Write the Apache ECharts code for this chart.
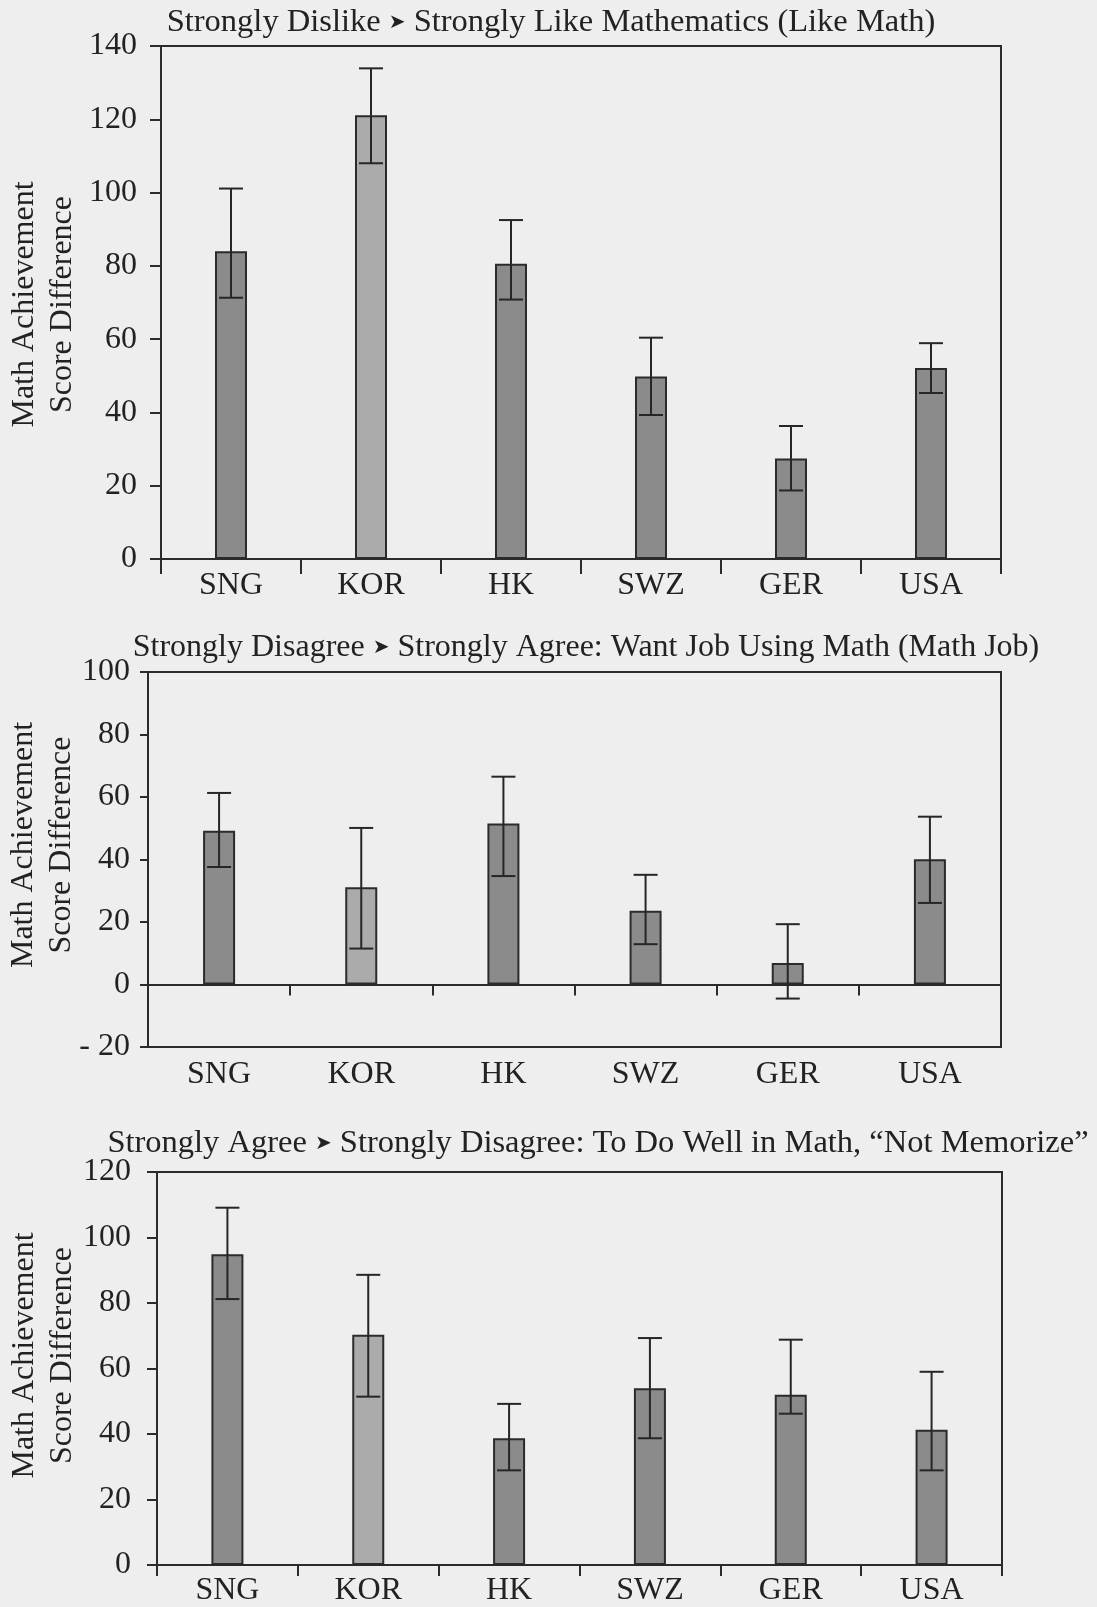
<!DOCTYPE html>
<html>
<head>
<meta charset="utf-8">
<title>Math Achievement Score Difference</title>
<script src="https://cdn.jsdelivr.net/npm/echarts@6/dist/echarts.min.js"></script>
<style>
  html, body { margin: 0; padding: 0; background: #eeeeee; }
  #chart { width: 1097px; height: 1607px; }
</style>
</head>
<body>
<div id="chart"></div>
<script>
// Countries shown on every panel
const categories = ['SNG', 'KOR', 'HK', 'SWZ', 'GER', 'USA'];

// Panel 1: Strongly Dislike -> Strongly Like Mathematics
const likeMathValues = [84.0, 121.1, 80.6, 49.8, 27.4, 52.1];
const likeMathLow    = [71.3, 108.0, 70.8, 39.3, 18.7, 45.3];
const likeMathHigh   = [101.1, 133.9, 92.5, 60.4, 36.3, 58.9];

// Panel 2: Strongly Disagree -> Strongly Agree: Want Job Using Math
const mathJobValues = [49.2, 31.1, 51.5, 23.6, 6.9, 40.1];
const mathJobLow    = [37.6, 11.5, 34.7, 12.9, -4.5, 26.1];
const mathJobHigh   = [61.3, 50.1, 66.5, 35.1, 19.3, 53.7];

// Panel 3: Strongly Agree -> Strongly Disagree: "Not Memorize"
const memorizeValues = [94.9, 70.3, 38.7, 54.0, 52.0, 41.3];
const memorizeLow    = [81.2, 51.4, 28.9, 38.7, 46.2, 28.9];
const memorizeHigh   = [109.1, 88.6, 49.2, 69.3, 68.8, 59.0];

// Value-axis ranges
const likeMathTicks = { min: 0, max: 140, interval: 20 };
const mathJobTicks  = { min: -20, max: 100, interval: 20 };
const memorizeTicks = { min: 0, max: 120, interval: 20 };

const panelTitles = [
  'Strongly Dislike {a|➤} Strongly Like Mathematics (Like Math)',
  'Strongly Disagree {a|➤} Strongly Agree: Want Job Using Math (Math Job)',
  'Strongly Agree {a|➤} Strongly Disagree: To Do Well in Math, \u201CNot Memorize\u201D'
];
const yName = 'Math Achievement\nScore Difference';

const FONT = 'Liberation Serif';
const INK = '#222222';
const LINE = '#2b2b2b';
const DARK_BAR = '#8b8b8b';
const LIGHT_BAR = '#ababab';

const chart = echarts.init(document.getElementById('chart'));

function titleOf(text, x, y, size) {
  return {
    text: text,
    left: x, top: y, textAlign: 'center', padding: 0,
    textStyle: {
      fontFamily: FONT, fontSize: size, fontWeight: 'normal', color: INK,
      rich: { a: { fontFamily: 'DejaVu Sans', fontSize: 20, color: INK } }
    }
  };
}

function valueAxis(grid, ticks, tickLen, labelMargin, nameGap, namePad) {
  return {
    type: 'value', gridIndex: grid,
    min: ticks.min, max: ticks.max, interval: ticks.interval,
    splitLine: { show: false },
    axisLine: { show: true, lineStyle: { color: LINE, width: 2 } },
    axisTick: { show: true, length: tickLen, lineStyle: { color: LINE, width: 2 } },
    axisLabel: {
      margin: labelMargin, fontFamily: FONT, fontSize: 32, color: INK,
      formatter: v => (v < 0 ? '- ' + Math.abs(v) : String(v))
    },
    name: yName, nameLocation: 'middle', nameRotate: 90, nameGap: nameGap,
    nameMoveOverlap: false,
    nameTextStyle: {
      fontFamily: FONT, fontSize: 32, lineHeight: 38, color: INK, padding: namePad
    }
  };
}

function categoryAxis(grid, opts) {
  return Object.assign({
    type: 'category', gridIndex: grid, data: categories,
    axisLine: { show: true, onZero: true, lineStyle: { color: LINE, width: 2 } },
    axisTick: { show: true, length: 15, lineStyle: { color: LINE, width: 2 } },
    axisLabel: { show: true, margin: 11, fontFamily: FONT, fontSize: 32, color: INK },
    splitLine: { show: false }
  }, opts);
}

function barSeries(xi, yi, values) {
  return {
    type: 'bar', xAxisIndex: xi, yAxisIndex: yi, barWidth: 32, z: 2,
    data: values.map((v, i) => ({
      value: v,
      itemStyle: { color: categories[i] === 'KOR' ? LIGHT_BAR : DARK_BAR }
    })),
    itemStyle: { borderColor: LINE, borderWidth: 2 },
    emphasis: { disabled: true }
  };
}

function renderError(params, api) {
  const lo = api.coord([api.value(0), api.value(1)]);
  const hi = api.coord([api.value(0), api.value(2)]);
  const hw = 12;
  const style = { stroke: '#262626', lineWidth: 2 };
  return {
    type: 'group',
    children: [
      { type: 'line', shape: { x1: hi[0], y1: hi[1], x2: lo[0], y2: lo[1] }, style: style },
      { type: 'line', shape: { x1: hi[0] - hw, y1: hi[1], x2: hi[0] + hw, y2: hi[1] }, style: style },
      { type: 'line', shape: { x1: lo[0] - hw, y1: lo[1], x2: lo[0] + hw, y2: lo[1] }, style: style }
    ]
  };
}

function errorSeries(xi, yi, low, high) {
  return {
    type: 'custom', xAxisIndex: xi, yAxisIndex: yi, z: 3,
    renderItem: renderError,
    encode: { x: 0, y: [1, 2] },
    data: low.map((l, i) => [i, l, high[i]])
  };
}

const gridStyle = {
  show: true, borderColor: LINE, borderWidth: 2, backgroundColor: 'transparent',
  containLabel: false, outerBoundsMode: 'none'
};

chart.setOption({
  animation: false,
  backgroundColor: '#eeeeee',
  title: [
    titleOf(panelTitles[0], 551, 6, 32.5),
    titleOf(panelTitles[1], 586, 632, 32),
    titleOf(panelTitles[2], 598, 1127, 32.5)
  ],
  grid: [
    Object.assign({ left: 161, top: 46, width: 840, height: 513 }, gridStyle),
    Object.assign({ left: 148, top: 672, width: 853, height: 375 }, gridStyle),
    Object.assign({ left: 157, top: 1172, width: 845, height: 393 }, gridStyle)
  ],
  xAxis: [
    categoryAxis(0, {}),
    // panel 2: country names along the lower frame
    categoryAxis(1, {
      position: 'bottom',
      axisLine: { show: false, onZero: false },
      axisTick: { show: false },
      axisLabel: { show: true, margin: 12, fontFamily: FONT, fontSize: 32, color: INK }
    }),
    // panel 2: baseline with ticks at zero
    categoryAxis(1, {
      position: 'bottom',
      axisTick: { show: true, length: 11, lineStyle: { color: LINE, width: 2 } },
      axisLabel: { show: false }
    }),
    categoryAxis(2, {
      axisTick: { show: true, length: 11, lineStyle: { color: LINE, width: 2 } },
      axisLabel: { show: true, margin: 10, fontFamily: FONT, fontSize: 32, color: INK }
    })
  ],
  yAxis: [
    valueAxis(0, likeMathTicks, 11, 24, 79, [0, 4, 0, 0]),
    valueAxis(1, mathJobTicks, 8, 18, 67, [0, 0, 0, 29]),
    valueAxis(2, memorizeTicks, 10, 26, 75, [0, 0, 0, 26])
  ],
  series: [
    barSeries(0, 0, likeMathValues),
    errorSeries(0, 0, likeMathLow, likeMathHigh),
    barSeries(1, 1, mathJobValues),
    errorSeries(1, 1, mathJobLow, mathJobHigh),
    barSeries(3, 2, memorizeValues),
    errorSeries(3, 2, memorizeLow, memorizeHigh)
  ]
});
</script>
</body>
</html>
